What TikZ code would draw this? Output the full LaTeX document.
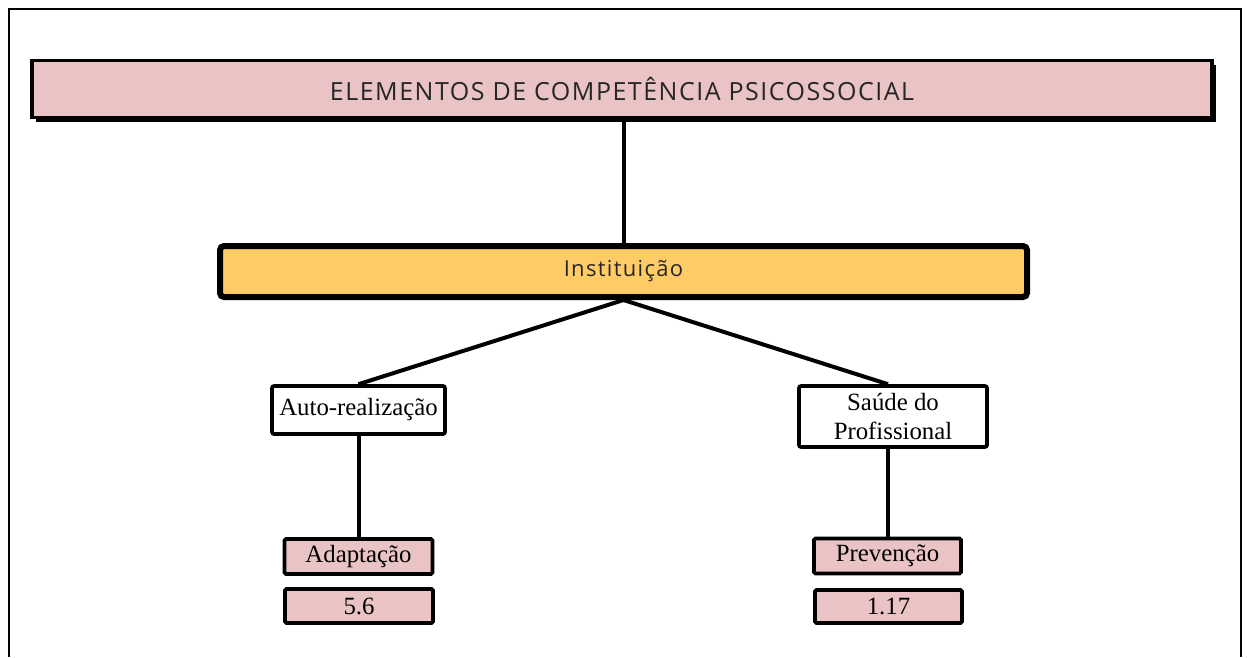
\documentclass[tikz,border=0pt]{standalone}
\usepackage{fontspec}
\setmainfont{Liberation Serif}
\newfontfamily\lsans[LetterSpace=6]{Open Sans}
\usetikzlibrary{shadows}
\definecolor{pinkfill}{HTML}{EAC3C4}
\definecolor{orangefill}{HTML}{FECB66}
\definecolor{txtgray}{HTML}{262626}
\tikzset{
  x=1pt, y=-1pt,
  frameline/.style={line width=1.6pt},
  conn/.style={line width=4pt},
  titlebox/.style={draw, line width=3.2pt, fill=pinkfill, inner sep=0pt,
    drop shadow={shadow xshift=4pt, shadow yshift=-4pt, fill=black, opacity=1},
    font=\lsans\fontsize{25}{30}\selectfont, text=txtgray},
  instbox/.style={draw, line width=6pt, fill=orangefill, rounded corners=4pt, inner sep=0pt,
    font=\lsans\fontsize{22}{26}\selectfont, text=txtgray},
  catbox/.style={draw, line width=3.6pt, fill=white, rounded corners=2pt, inner sep=0pt,
    align=center, font=\fontsize{24.8}{29}\selectfont},
  valbox/.style={draw, line width=3.6pt, fill=pinkfill, rounded corners=1.5pt, inner sep=0pt,
    font=\fontsize{24.8}{29}\selectfont},
}
\begin{document}
\begin{tikzpicture}
\useasboundingbox (0,0) rectangle (1247,657);
% outer frame (open at bottom)
\draw[frameline] (9,657) -- (9,9) -- (1241,9) -- (1241,657);

\node[titlebox, minimum width=1180pt, minimum height=57pt] (top) at (622,89) {ELEMENTOS DE COMPETÊNCIA PSICOSSOCIAL};
\node[instbox, minimum width=807pt, minimum height=51pt] (inst) at (623.5,271.5) {Instituição};
\node[catbox, minimum width=173pt, minimum height=48pt] (auto) at (358.5,410) {Auto-realização};
\node[catbox, minimum width=188pt, minimum height=61pt] (saude) at (893,416.5) {Saúde do\\Profissional};
\node[valbox, minimum width=148pt, minimum height=35pt] (adapt) at (358.5,556.5) {Adaptação};
\node[valbox, minimum width=148pt, minimum height=34pt] (v1) at (359,606) {5.6};
\node[valbox, minimum width=147pt, minimum height=35pt] (prev) at (887.5,556) {Prevenção};
\node[valbox, minimum width=147pt, minimum height=33pt] (v2) at (888.5,606.5) {1.17};

\draw[conn] ([xshift=2pt]top.south) -- ([xshift=0.5pt]inst.north);
\draw[conn] (inst.south) -- (auto.north);
\draw[conn] (inst.south) -- ([xshift=-5pt]saude.north);
\draw[conn] (auto.south) -- (adapt.north);
\draw[conn] ([xshift=-5pt]saude.south) -- ([xshift=0.5pt]prev.north);
\end{tikzpicture}
\end{document}
